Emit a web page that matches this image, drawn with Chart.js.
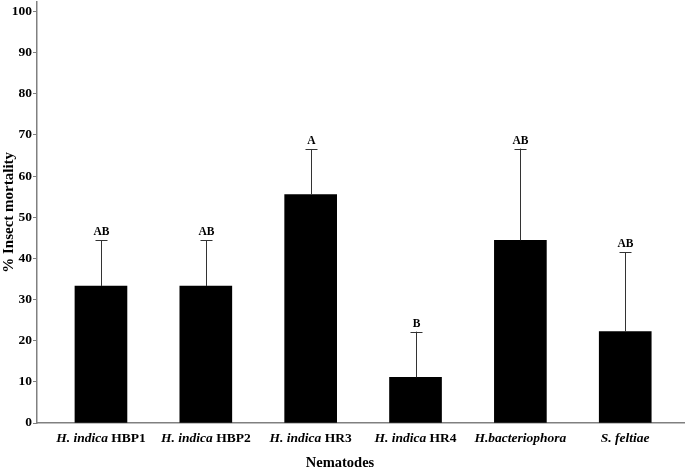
<!DOCTYPE html>
<html>
<head>
<meta charset="utf-8">
<script src="https://cdn.jsdelivr.net/npm/chart.js@4.4.1/dist/chart.umd.min.js"></script>
<style>
  body { margin: 0; background: #fff; }
  #wrap { width: 685px; height: 472px; }
</style>
</head>
<body>
<div id="wrap"><canvas id="mortalityChart"></canvas></div>
<script>
// nematode names: italic part + plain part
const speciesNames = ['H. indica', 'H. indica', 'H. indica', 'H. indica', 'H.bacteriophora', 'S. feltiae'];
const strainNames = [' HBP1', ' HBP2', ' HR3', ' HR4', '', ''];
const mortality = [33.3, 33.3, 55.5, 11.1, 44.4, 22.2];
const stdErrors = [11.1, 11.1, 11.1, 11.1, 22.3, 19.3];
const groupLetters = ['AB', 'AB', 'A', 'B', 'AB', 'AB'];
const yTicks = [0, 10, 20, 30, 40, 50, 60, 70, 80, 90, 100];

const serif = '"Liberation Serif", "Times New Roman", serif';
const axisGray = '#808080';

const errorBars = {
    id: 'errorBars',
    afterDatasetsDraw(chart) {
        const ctx = chart.ctx;
        const y = chart.scales.y;
        const meta = chart.getDatasetMeta(0);
        ctx.save();
        meta.data.forEach((bar, i) => {
            const x = Math.round(bar.x) + 0.5;
            const top = y.getPixelForValue(mortality[i] + stdErrors[i]);
            const base = y.getPixelForValue(mortality[i]);
            ctx.strokeStyle = '#333';
            ctx.lineWidth = 1;
            ctx.beginPath();
            ctx.moveTo(x, base);
            ctx.lineTo(x, top);
            ctx.moveTo(x - 6, Math.round(top) + 0.5);
            ctx.lineTo(x + 6, Math.round(top) + 0.5);
            ctx.stroke();
            ctx.fillStyle = '#000';
            ctx.font = 'bold 11.5px ' + serif;
            ctx.textAlign = 'center';
            ctx.textBaseline = 'alphabetic';
            ctx.fillText(groupLetters[i], x, top - 5);
        });
        ctx.restore();
    }
};

const xLabels = {
    id: 'xLabels',
    afterDraw(chart) {
        const ctx = chart.ctx;
        const xs = chart.scales.x;
        const area = chart.chartArea;
        ctx.save();
        ctx.fillStyle = '#000';
        ctx.textBaseline = 'alphabetic';
        ctx.textAlign = 'left';
        speciesNames.forEach((sp, i) => {
            const cx = xs.getPixelForValue(i);
            const fItal = 'italic bold 13.5px ' + serif;
            const fBold = 'bold 13.5px ' + serif;
            ctx.font = fItal;
            const w1 = ctx.measureText(sp).width;
            ctx.font = fBold;
            const w2 = ctx.measureText(strainNames[i]).width;
            let left = cx - (w1 + w2) / 2;
            ctx.font = fItal;
            ctx.fillText(sp, left, area.bottom + 19);
            ctx.font = fBold;
            ctx.fillText(strainNames[i], left + w1, area.bottom + 19);
        });
        ctx.font = 'bold 14.5px ' + serif;
        ctx.textAlign = 'center';
        ctx.fillText('Nematodes', 340, 467);
        ctx.restore();
    }
};

new Chart(document.getElementById('mortalityChart'), {
    type: 'bar',
    data: {
        datasets: [{
            data: mortality.map((v, i) => ({ x: i, y: v })),
            backgroundColor: '#000',
            borderWidth: 0,
            barThickness: 52
        }]
    },
    options: {
        responsive: true,
        maintainAspectRatio: false,
        animation: false,
        layout: { padding: 0 },
        plugins: {
            legend: { display: false },
            tooltip: { enabled: false }
        },
        scales: {
            x: {
                type: 'linear',
                offset: false,
                min: -0.61,
                max: 5.57,
                grid: { drawOnChartArea: false, drawTicks: false },
                border: { display: true, color: axisGray, width: 1.5 },
                ticks: { display: false },
                afterFit(scale) { scale.height = 49; }
            },
            y: {
                min: 0,
                max: 102.4,
                afterBuildTicks(scale) {
                    scale.ticks = yTicks.map(v => ({ value: v }));
                },
                grid: { drawOnChartArea: false, drawTicks: true, tickLength: 4, color: axisGray },
                border: { display: true, color: axisGray, width: 1.5 },
                ticks: {
                    color: '#000',
                    padding: 1,
                    font: { family: serif, size: 13.5, weight: 'bold', lineHeight: 0.1 }
                },
                title: {
                    display: true,
                    text: '% Insect mortality',
                    color: '#000',
                    padding: 0,
                    font: { family: serif, size: 15, weight: 'bold' }
                },
                afterFit(scale) { scale.width = 37; }
            }
        }
    },
    plugins: [errorBars, xLabels]
});
</script>
</body>
</html>
